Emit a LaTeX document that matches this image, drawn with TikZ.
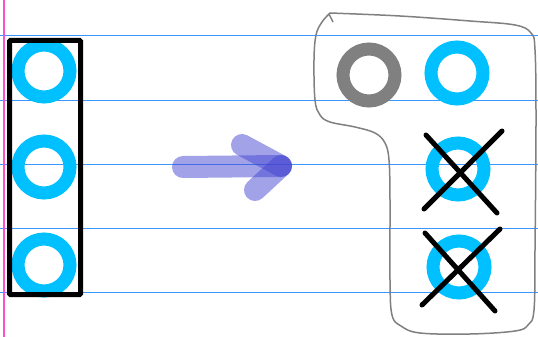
\documentclass[tikz,border=0pt]{standalone}
\begin{document}
\definecolor{ringblue}{RGB}{0,192,255}
\definecolor{ruleblue}{RGB}{60,150,255}
\definecolor{margin}{RGB}{255,80,200}
\definecolor{arrowblue}{RGB}{70,70,210}
\begin{tikzpicture}[x=1pt,y=-1pt,
  ring/.style={circle,draw=ringblue,line width=13pt,minimum size=52pt,inner sep=0pt},
  grayring/.style={ring,draw=gray},
  rule/.style={ruleblue,line width=1pt},
  frame/.style={draw=black,line width=5pt,rounded corners=1pt,inner sep=0pt,minimum width=71pt,minimum height=254pt},
  crossline/.style={black,line width=5pt,line cap=round},
  arrowpart/.style={arrowblue,opacity=0.5,line width=22pt,line cap=round},
  outline/.style={gray,line width=1.5pt,line join=round}]
\useasboundingbox (0,0) rectangle (538,337);
% ruled paper
\foreach \yy in {36,100,164,228,292}{
  \draw[rule] (0,\yy) -- (538,\yy);
}
\draw[margin,line width=1.3pt] (4,0) -- (4,337);
% left column
\node[ring] (l1) at (44,71) {};
\node[ring] (l2) at (44,167) {};
\node[ring] (l3) at (44,265) {};
\node[frame] (box) at (45,167.5) {};
% arrow
\coordinate (as) at (183,167);
\coordinate (ae) at (281,166);
\coordinate (hu) at (242,145);
\coordinate (hd) at (255,190);
\draw[arrowpart] (as) -- (ae);
\draw[arrowpart] (hu) -- (ae);
\draw[arrowpart] (hd) -- (ae);
% right group
\draw[outline] plot[smooth,tension=0.6] coordinates {
  (330,13) (400,16) (470,21) (515,25) (531,33) (535,50) (536,120) (535,250)
  (534,310) (528,325) (515,331) (470,334) (420,333) (401,326) (392,315)
  (390,280) (390,200) (389,160) (385,143) (375,133) (355,127) (330,122)
  (320,115) (315,100) (314,60) (316,35) (322,22) (330,13)};
\draw[outline] (329,14) -- (333,22);
\node[grayring] (g1) at (369,75) {};
\node[ring] (r1) at (457,73) {};
\node[ring] (r2) at (458,169) {};
\node[ring] (r3) at (459,267) {};
\coordinate (x1a) at (424,209); \coordinate (x1b) at (502,131);
\coordinate (x1c) at (426,135); \coordinate (x1d) at (497,213);
\coordinate (x2a) at (422,305); \coordinate (x2b) at (500,229);
\coordinate (x2c) at (425,233); \coordinate (x2d) at (495,311);
\draw[crossline] (x1a) -- (x1b);
\draw[crossline] (x1c) -- (x1d);
\draw[crossline] (x2a) -- (x2b);
\draw[crossline] (x2c) -- (x2d);
\end{tikzpicture}
\end{document}
